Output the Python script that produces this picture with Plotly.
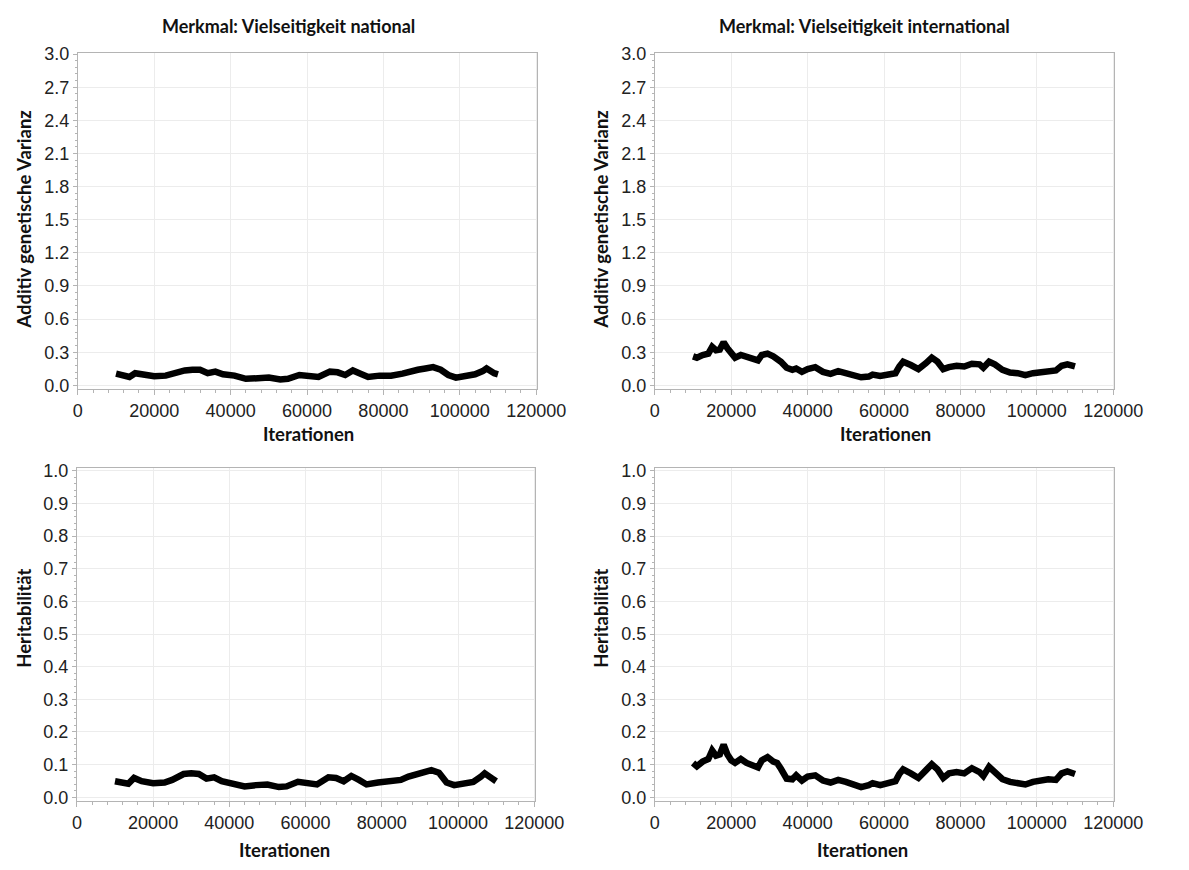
import plotly.graph_objects as go

# Iterations
iter_nat = [10000, 12000, 13500, 15000, 17000, 20000, 23000, 25000, 28000, 30000,
            32000, 34000, 36000, 38000, 41000, 44000, 47000, 50000, 53000, 55000,
            58000, 61000, 63000, 66000, 68000, 70000, 72000, 74000, 76000, 79000,
            82000, 85000, 87000, 89000, 91000, 93000, 95000, 97000, 99000, 101000,
            104000, 106000, 107000, 109000, 110000]
var_nat = [0.106, 0.094, 0.076, 0.11, 0.094, 0.082, 0.088, 0.11, 0.135, 0.141,
           0.141, 0.11, 0.124, 0.10, 0.088, 0.059, 0.065, 0.07, 0.053, 0.059,
           0.094, 0.082, 0.076, 0.124, 0.118, 0.094, 0.135, 0.106, 0.076, 0.088,
           0.088, 0.106, 0.129, 0.141, 0.153, 0.165, 0.141, 0.094, 0.07, 0.082,
           0.10, 0.129, 0.153, 0.11, 0.10]
h2_nat = [0.049, 0.043, 0.041, 0.059, 0.049, 0.043, 0.045, 0.053, 0.071, 0.073,
          0.071, 0.057, 0.061, 0.049, 0.041, 0.033, 0.037, 0.039, 0.031, 0.033,
          0.047, 0.041, 0.039, 0.061, 0.059, 0.049, 0.065, 0.053, 0.039, 0.045,
          0.047, 0.053, 0.063, 0.069, 0.077, 0.083, 0.075, 0.045, 0.037, 0.041,
          0.047, 0.063, 0.073, 0.057, 0.049]

iter_int = [10000, 11000, 12500, 14000, 15000, 16000, 17000, 18000, 19000, 20000,
            21000, 22500, 24000, 25500, 27000, 28000, 29500, 31000, 32000, 33000,
            34500, 36000, 37000, 38500, 40000, 42000, 44000, 46000, 48000, 50000,
            52000, 54000, 56000, 57000, 59000, 61000, 63000, 64000, 65000, 67000,
            69000, 71000, 72500, 74000, 75500, 77000, 79000, 81000, 83000, 85000,
            86000, 87500, 89000, 91000, 93000, 95000, 97000, 99000, 101000, 103000,
            105000, 106500, 108000, 110000]
var_int = [0.263, 0.251, 0.275, 0.287, 0.349, 0.318, 0.324, 0.391, 0.336, 0.287,
           0.251, 0.275, 0.263, 0.239, 0.226, 0.275, 0.287, 0.263, 0.245, 0.214,
           0.159, 0.141, 0.153, 0.122, 0.147, 0.165, 0.122, 0.104, 0.128, 0.110,
           0.086, 0.073, 0.080, 0.098, 0.086, 0.092, 0.110, 0.171, 0.214, 0.184,
           0.147, 0.202, 0.251, 0.214, 0.147, 0.165, 0.177, 0.171, 0.196, 0.190,
           0.159, 0.214, 0.190, 0.141, 0.116, 0.110, 0.092, 0.110, 0.116, 0.128,
           0.135, 0.177, 0.190, 0.171]
h2_int = [0.105, 0.095, 0.109, 0.117, 0.143, 0.127, 0.131, 0.161, 0.131, 0.113,
          0.105, 0.117, 0.105, 0.097, 0.091, 0.113, 0.123, 0.109, 0.105, 0.087,
          0.057, 0.055, 0.067, 0.051, 0.063, 0.067, 0.051, 0.045, 0.053, 0.047,
          0.037, 0.031, 0.037, 0.043, 0.037, 0.041, 0.049, 0.071, 0.085, 0.073,
          0.059, 0.083, 0.101, 0.085, 0.059, 0.073, 0.077, 0.073, 0.089, 0.077,
          0.065, 0.093, 0.075, 0.055, 0.047, 0.043, 0.039, 0.047, 0.051, 0.055,
          0.053, 0.073, 0.079, 0.071]

titles = ["Merkmal: Vielseitigkeit national", "Merkmal: Vielseitigkeit international"]
ylab_top = "Additiv genetische Varianz"
ylab_bot = "Heritabilität"
xlab = "Iterationen"
x_ticks = [0, 20000, 40000, 60000, 80000, 100000, 120000]
y_ticks_top = [0.0, 0.3, 0.6, 0.9, 1.2, 1.5, 1.8, 2.1, 2.4, 2.7, 3.0]
y_ticks_bot = [0.0, 0.1, 0.2, 0.3, 0.4, 0.5, 0.6, 0.7, 0.8, 0.9, 1.0]

W, H = 1189, 870
TXT = "Lato, 'Open Sans', sans-serif"
TICKF = dict(family="Liberation Sans, Arial, sans-serif", size=18, color="#222")


def px_x(p):
    return p / W


def px_y(p):
    return 1 - p / H


fig = go.Figure()
panels = [
    (iter_nat, var_nat, "x", "y"),
    (iter_int, var_int, "x2", "y2"),
    (iter_nat, h2_nat, "x3", "y3"),
    (iter_int, h2_int, "x4", "y4"),
]
for xs, ys, xa, ya in panels:
    fig.add_trace(go.Scatter(x=xs, y=ys, xaxis=xa, yaxis=ya, mode="lines",
                             line=dict(color="black", width=6.5), showlegend=False,
                             hoverinfo="x+y"))

boxes = {
    1: (75, 548, 45, 387),
    2: (669, 1142, 45, 387),
    3: (74, 546, 467, 806),
    4: (669, 1142, 467, 806),
}
LINEC = "#b4b4b4"
GRIDC = "#ececec"
layout = {}
for i, (x0, x1, y0, y1) in boxes.items():
    sx = "" if i == 1 else str(i)
    top = i <= 2
    yt = y_ticks_top if top else y_ticks_bot
    layout["xaxis" + sx] = dict(
        domain=[px_x(x0), px_x(x1)], range=[0, 120300], anchor="y" + sx,
        tickvals=x_ticks, ticktext=[str(v) for v in x_ticks],
        ticks="outside", ticklen=5, tickcolor=LINEC, tickfont=TICKF,
        showline=True, linecolor=LINEC, mirror=True, linewidth=1,
        showgrid=True, gridcolor=GRIDC, zeroline=False,
        minor=dict(ticks="outside", ticklen=3, tickcolor=LINEC, dtick=4000, showgrid=False),
    )
    layout["yaxis" + sx] = dict(
        domain=[px_y(y1), px_y(y0)], anchor="x" + sx,
        range=[-0.036, 3.008] if top else [-0.012, 1.009],
        tickvals=yt, ticktext=["%.1f" % v for v in yt],
        ticks="outside", ticklen=4, tickcolor=LINEC, tickfont=TICKF,
        showline=True, linecolor=LINEC, mirror=True, linewidth=1,
        showgrid=True, gridcolor=GRIDC, zeroline=False,
        minor=dict(ticks="outside", ticklen=2, tickcolor=LINEC,
                   dtick=0.06 if top else 0.02, showgrid=False),
    )

ann = []


def add_text(text, x, y, size=18, angle=0, yanchor="middle"):
    ann.append(dict(text="<b>" + text + "</b>", x=px_x(x), y=px_y(y), xref="paper", yref="paper",
                    showarrow=False, textangle=angle, xanchor="center", yanchor=yanchor,
                    font=dict(family=TXT, size=size, color="#111")))


add_text(titles[0], 292, 17, size=18)
add_text(titles[1], 885, 17, size=18)
add_text(ylab_top, 20, 214, size=18.5, angle=-90)
add_text(ylab_top, 614, 214, size=18.5, angle=-90)
add_text(ylab_bot, 20, 620, size=18.5, angle=-90)
add_text(ylab_bot, 614, 620, size=18.5, angle=-90)
add_text(xlab, 312, 432, size=18.5)
add_text(xlab, 906, 432, size=18.5)
add_text(xlab, 288, 869, size=18.5, yanchor="bottom")
add_text(xlab, 883, 869, size=18.5, yanchor="bottom")

fig.update_layout(width=W, height=H, autosize=False,
                  margin=dict(l=0, r=0, t=0, b=0),
                  paper_bgcolor="white", plot_bgcolor="white",
                  annotations=ann, **layout)
fig.write_html("out.html", config={"displayModeBar": False},
               post_script="document.body.style.margin='0';document.body.style.overflow='hidden';")
